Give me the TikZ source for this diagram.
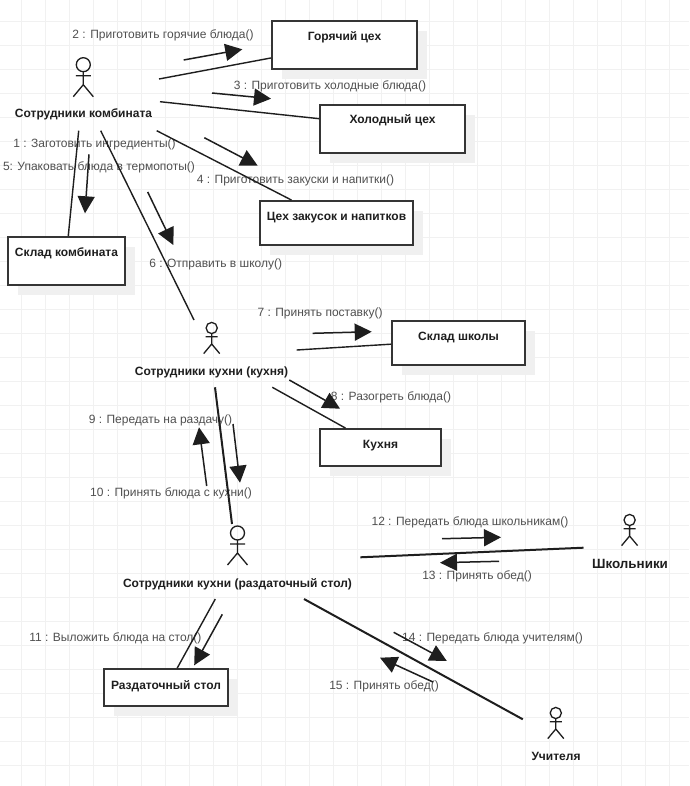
\documentclass[tikz,border=0pt]{standalone}
\usepackage{fontspec}
\setmainfont{Liberation Sans}
\usetikzlibrary{arrows.meta,shadows}
\definecolor{gridline}{RGB}{241,241,241}
\definecolor{shade}{RGB}{240,240,240}
\definecolor{ink}{RGB}{30,30,30}
\definecolor{msgtext}{RGB}{80,80,80}
\tikzset{
	actor/.pic={
		\draw[ink,line width=1.3pt] (0,0) circle (7);
		\draw[ink,line width=1.3pt] (-7.5,11)--(7.5,11) (0,7)--(0,20) (-10,32)--(0,20)--(10,32);
	},
	box/.style n args={3}{draw=ink!90,line width=1.8pt,fill=white,inner sep=0pt,font=\fontsize{12}{14}\selectfont\bfseries,text=ink,
		minimum width=#1pt,text height=#2pt,text depth=#3pt,
		drop shadow={shadow xshift=10pt,shadow yshift=-10pt,fill=shade,opacity=1}},
	actorname/.style={inner sep=0pt,font=\fontsize{12}{14}\selectfont\bfseries,text=ink,text height=10pt,text depth=1pt},
	msg/.style={inner sep=0pt,font=\fontsize{12}{14}\selectfont,text=msgtext,text height=10pt,text depth=1pt},
	link/.style={ink,line width=1.4pt},
	heavy/.style={ink,line width=2pt},
	send/.style={ink,line width=1.5pt,-{Triangle[length=17pt,width=17pt]}},
}
\begin{document}
\begin{tikzpicture}[x=1pt,y=-1pt]

	\useasboundingbox (0,0) rectangle (689,786);
	\fill[white] (0,0) rectangle (689,786);

	% grid
	\foreach \i in {0,...,28}
		\draw[gridline,line width=1pt] ({21+24*\i},0)--({21+24*\i},786);
	\foreach \i in {0,...,31}
		\draw[gridline,line width=1pt] (0,{21.5+24*\i})--(689,{21.5+24*\i});

	% boxes
	\node[box={145}{19.5}{28.5}] (goryachiy) at (344.5,45) {Горячий цех};
	\node[box={145}{19}{29}] (kholodny) at (392.5,129) {Холодный цех};
	\node[box={153}{20}{24}] (zakuski) at (336.5,223) {Цех закусок и напитков};
	\node[box={117}{19}{29}] (skladkomb) at (66.5,261) {Склад комбината};
	\node[box={133}{19}{25}] (skladshk) at (458.5,343) {Склад школы};
	\node[box={121}{19.5}{17.5}] (kuhnya) at (380.5,447.5) {Кухня};
	\node[box={124}{20}{17}] (stol) at (166,687.5) {Раздаточный стол};

	% actors
	\pic at (83.3,64.7) {actor};
	\pic[scale=0.8] at (211.7,328) {actor};
	\pic at (237.5,533) {actor};
	\pic[scale=0.8] at (629.6,520) {actor};
	\pic[scale=0.8] at (555.8,713) {actor};

	\node[actorname] (kombinat) at (83.5,113.5) {Сотрудники комбината};
	\node[actorname] (povar) at (211.5,371) {Сотрудники кухни (кухня)};
	\node[actorname] (razdacha) at (237.5,582.5) {Сотрудники кухни (раздаточный стол)};
	\node[actorname,font=\fontsize{13.4}{15}\selectfont\bfseries] (shkolniki) at (630,564) {Школьники};
	\node[actorname] (uchitel) at (556,755.5) {Учителя};

	% message labels
	\node[msg] (t1) at (94.5,143) {1 : Заготовить ингредиенты()};
	\node[msg] (t2) at (163,34) {2 : Приготовить горячие блюда()};
	\node[msg] (t3) at (330,85) {3 : Приготовить холодные блюда()};
	\node[msg] (t4) at (295.5,179) {4 : Приготовить закуски и напитки()};
	\node[msg] (t5) at (99,166) {5: Упаковать блюда в термопоты()};
	\node[msg] (t6) at (215.7,263) {6 : Отправить в школу()};
	\node[msg] (t7) at (320,312) {7 : Принять поставку()};
	\node[msg] (t8) at (391,395.5) {8 : Разогреть блюда()};
	\node[msg] (t9) at (160.5,419) {9 : Передать на раздачу()};
	\node[msg] (t10) at (171,492) {10 : Принять блюда с кухни()};
	\node[msg] (t11) at (115.4,637) {11 : Выложить блюда на стол()};
	\node[msg] (t12) at (470,521) {12 : Передать блюда школьникам()};
	\node[msg] (t13) at (477,575) {13 : Принять обед()};
	\node[msg] (t14) at (492.5,636.5) {14 : Передать блюда учителям()};
	\node[msg] (t15) at (384,684.5) {15 : Принять обед()};

	% links
	\coordinate (k1) at (159,79);
	\coordinate (k2) at (160,101.7);
	\coordinate (k3) at (156.7,130.7);
	\coordinate (k4) at (78.7,130.7);
	\coordinate (k5) at (100.7,130.7);
	\coordinate (p0) at (194,320);
	\coordinate (p1) at (296.7,350);
	\coordinate (p2) at (272.3,387.3);
	\coordinate (p3) at (215,387.3);
	\coordinate (r0) at (232,524);
	\coordinate (r1) at (360.3,557.3);
	\coordinate (r2) at (304,599);
	\coordinate (r3) at (215.3,599);
	\coordinate (s0) at (583.5,547.7);
	\coordinate (u0) at (522.8,719.3);

	\draw[link] (k1)--(goryachiy.190.2);
	\draw[link] (k2)--(kholodny.172.9);
	\draw[link] (k3)--(zakuski.153.8);
	\draw[link] (k4)--(skladkomb.86.4);
	\draw[link] (k5)--(p0);
	\draw[link] (p1)--(skladshk.181.7);
	\draw[link] (p2)--(kuhnya.151.8);
	\draw[heavy] (p3)--(r0);
	\draw[heavy] (r1)--(s0);
	\draw[heavy] (r2)--(u0);
	\draw[link] (r3)--(stol.60.2);

	% message arrows
	\coordinate (a2s) at (183.7,60);
	\coordinate (a2e) at (242.3,49.3);
	\draw[send] (a2s)--(a2e);
	\coordinate (a3s) at (212,93);
	\coordinate (a3e) at (271,98.7);
	\draw[send] (a3s)--(a3e);
	\coordinate (a4s) at (204.3,137.7);
	\coordinate (a4e) at (257.7,165.7);
	\draw[send] (a4s)--(a4e);
	\coordinate (a5s) at (89,154.3);
	\coordinate (a5e) at (85,213.3);
	\draw[send] (a5s)--(a5e);
	\coordinate (a6s) at (147.7,192);
	\coordinate (a6e) at (173.3,245);
	\draw[send] (a6s)--(a6e);
	\coordinate (a7s) at (312.7,333.3);
	\coordinate (a7e) at (371.7,331.7);
	\draw[send] (a7s)--(a7e);
	\coordinate (a8s) at (289.3,380);
	\coordinate (a8e) at (340,408.7);
	\draw[send] (a8s)--(a8e);
	\coordinate (a9s) at (206.7,486);
	\coordinate (a9e) at (199,427.3);
	\draw[send] (a9s)--(a9e);
	\coordinate (a10s) at (233,424);
	\coordinate (a10e) at (240,482.7);
	\draw[send] (a10s)--(a10e);
	\coordinate (a11s) at (222.3,614.3);
	\coordinate (a11e) at (194.2,665.3);
	\draw[send] (a11s)--(a11e);
	\coordinate (a12s) at (442,538.7);
	\coordinate (a12e) at (501,537.3);
	\draw[send] (a12s)--(a12e);
	\coordinate (a13s) at (499,561.3);
	\coordinate (a13e) at (440,562.7);
	\draw[send] (a13s)--(a13e);
	\coordinate (a14s) at (393.7,632.3);
	\coordinate (a14e) at (446.8,661);
	\draw[send] (a14s)--(a14e);
	\coordinate (a15s) at (433,682);
	\coordinate (a15e) at (380,657.7);
	\draw[send] (a15s)--(a15e);

\end{tikzpicture}
\end{document}
